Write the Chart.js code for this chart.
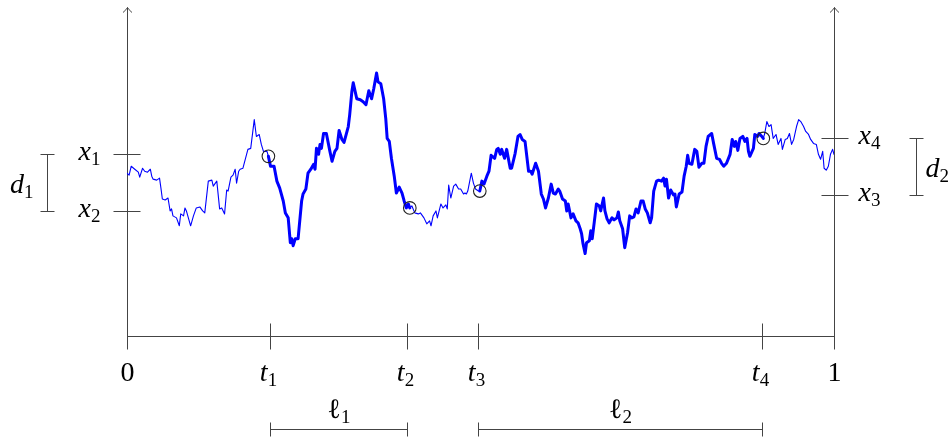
<!DOCTYPE html>
<html><head><meta charset="utf-8">
<script src="https://cdn.jsdelivr.net/npm/chart.js@4/dist/chart.umd.min.js"></script>
<style>html,body{margin:0;padding:0;background:#fff}#wrap{width:951px;height:441px;position:relative}</style>
</head><body><div id="wrap"><canvas id="c"></canvas></div>
<script>
// ---- path (time in [0,1], value in arbitrary units) ----
const times = [
0,0.003,0.006,0.011,0.016,0.018,0.022,0.025,0.029,0.033,0.035,0.037,0.042,0.046,0.048,0.050,0.054,0.058,0.061,0.063,
0.065,0.070,0.074,0.076,0.080,0.082,0.084,0.090,0.094,0.098,0.103,0.107,0.110,0.115,0.120,0.122,0.127,0.131,0.134,0.138,
0.141,0.143,0.147,0.150,0.153,0.155,0.158,0.160,0.164,0.171,0.175,0.180,0.183,0.187,0.190,0.193,0.198,0.200,
0.203,0.208,0.212,0.216,0.221,0.224,0.228,0.231,0.233,0.235,0.238,0.242,0.247,0.249,0.253,0.256,0.260,0.264,0.266,0.268,
0.271,0.273,0.275,0.278,0.282,0.287,0.290,0.294,0.297,0.300,0.304,0.307,0.313,0.315,0.318,0.320,0.325,0.330,0.334,0.338,
0.342,0.346,0.349,0.353,0.355,0.359,0.363,0.366,0.368,0.371,0.374,0.378,0.381,0.385,0.389,0.392,0.395,0.398,0.400,
0.403,0.407,0.412,0.415,0.420,0.424,0.428,0.430,0.433,0.437,0.439,0.444,0.447,0.451,0.453,0.455,0.458,0.462,0.465,0.469,
0.472,0.476,0.478,0.480,0.482,0.487,0.490,0.493,0.497,0.499,
0.502,0.505,0.509,0.512,0.515,0.520,0.523,0.525,0.528,0.530,0.534,0.537,0.542,0.544,0.549,0.553,0.556,0.559,0.563,0.568,
0.571,0.573,0.578,0.582,0.586,0.589,0.592,0.596,0.600,0.603,0.606,0.610,0.612,0.616,0.620,0.622,0.624,0.628,0.631,0.635,
0.638,0.641,0.643,0.645,0.648,0.650,0.654,0.656,0.658,0.662,0.664,0.668,0.670,0.674,0.676,0.679,0.682,0.686,0.689,0.693,
0.695,0.697,0.701,0.704,0.708,0.711,0.714,0.717,0.720,0.723,0.727,0.730,0.733,0.736,0.740,0.742,0.745,0.749,0.752,0.756,
0.759,0.761,0.763,0.766,0.769,0.773,0.775,0.777,0.781,0.785,0.788,0.791,0.793,0.795,0.799,0.803,0.806,0.809,0.813,0.816,
0.819,0.822,0.827,0.830,0.834,0.838,0.841,0.844,0.848,0.853,0.856,0.859,0.861,0.864,0.867,0.871,0.874,0.877,0.879,0.881,
0.886,0.888,0.892,0.894,0.898,0.900,
0.902,0.905,0.908,0.911,0.914,0.918,0.921,0.925,0.927,0.931,0.934,0.937,0.940,0.943,0.947,0.950,0.953,0.957,0.960,0.964,
0.967,0.971,0.975,0.978,0.981,0.984,0.986,0.989,0.992,0.995,0.998,1.000];
const values = [
1.64,1.62,1.71,1.68,1.65,1.60,1.69,1.66,1.65,1.68,1.61,1.58,1.57,1.59,1.49,1.38,1.37,1.39,1.26,1.28,
1.21,1.19,1.11,1.23,1.21,1.29,1.26,1.11,1.21,1.29,1.30,1.26,1.24,1.56,1.57,1.51,1.56,1.28,1.29,1.23,
1.47,1.46,1.60,1.62,1.68,1.54,1.66,1.68,1.69,1.88,1.89,2.18,2.01,2.03,1.93,1.86,1.86,1.81,
1.71,1.71,1.56,1.49,1.36,1.24,1.19,0.94,0.98,0.91,0.98,0.98,1.36,1.43,1.48,1.64,1.68,1.73,1.68,1.89,
1.83,1.93,1.89,2.04,2.04,1.86,1.76,1.86,1.89,2.07,1.98,1.95,2.11,2.23,2.46,2.55,2.39,2.38,2.36,2.33,
2.47,2.39,2.49,2.65,2.56,2.54,2.39,2.19,1.99,1.96,1.79,1.61,1.44,1.50,1.44,1.36,1.29,1.33,1.29,
1.31,1.24,1.23,1.24,1.19,1.13,1.16,1.11,1.21,1.26,1.19,1.33,1.29,1.32,1.28,1.52,1.39,1.51,1.53,1.48,
1.48,1.43,1.44,1.43,1.46,1.64,1.54,1.48,1.46,1.46,
1.56,1.53,1.61,1.66,1.82,1.79,1.88,1.89,1.83,1.88,1.79,1.88,1.69,1.69,1.84,2.01,2.03,1.98,1.96,1.66,
1.66,1.63,1.74,1.66,1.43,1.38,1.29,1.39,1.53,1.44,1.43,1.48,1.46,1.38,1.36,1.26,1.33,1.19,1.23,1.16,
1.14,1.08,1.03,0.93,0.83,0.94,0.96,1.06,0.98,1.21,1.33,1.31,1.26,1.39,1.26,1.18,1.14,1.19,1.17,1.19,
1.25,1.16,1.08,0.89,1.04,1.21,1.19,1.20,1.28,1.24,1.36,1.36,1.28,1.24,1.14,1.19,1.46,1.56,1.57,1.56,
1.59,1.51,1.58,1.39,1.47,1.42,1.43,1.30,1.43,1.45,1.61,1.71,1.82,1.74,1.73,1.88,1.86,1.70,1.74,1.74,
1.91,2.01,2.04,1.93,1.79,1.78,1.74,1.71,1.74,1.83,1.98,1.91,1.96,1.87,1.99,2.01,1.96,1.99,1.86,1.81,
1.89,2.03,2.01,2.04,2.01,1.99,
2.04,2.16,2.11,2.13,1.99,2.03,1.93,1.99,1.88,1.98,1.99,2.04,1.93,1.98,2.11,2.18,2.16,2.11,2.06,2.03,
1.98,1.94,1.93,1.83,1.78,1.86,1.69,1.67,1.71,1.83,1.88,1.83];

// intervals drawn with the thick stroke
const thickIntervals = [[0.200, 0.400], [0.499, 0.900]];
// circled points
const markedTimes  = [0.200, 0.400, 0.499, 0.900];
const markedValues = [1.81, 1.29, 1.46, 1.99];
// time axis ticks
const timeTicks = [0, 0.202, 0.396, 0.496, 0.898, 1];
const timeTickLabels = [['0',''],['t','1'],['t','2'],['t','3'],['t','4'],['1','']];
// level marks on the two vertical axes
const leftLevels = [1.83, 1.26];
const leftLevelLabels = [['x','1'],['x','2']];
const rightLevels = [1.99, 1.42];
const rightLevelLabels = [['x','4'],['x','3']];
// span annotations
const spans = [[0.202, 0.396], [0.496, 0.898]];
const spanLabels = [['ℓ','1'],['ℓ','2']];
const distLabels = [['d','1'],['d','2']];
const yTop = 3.31;

const FAM = '"Liberation Serif", "Times New Roman", Times, serif';
const LINE = '#444';

function sym(ctx, main, sub, x, base, align, italic) {
  const mf = (italic ? 'italic ' : '') + '28px ' + FAM;
  const sf = '19px ' + FAM;
  ctx.font = mf; const mw = ctx.measureText(main).width;
  ctx.font = sf; const sw = sub ? ctx.measureText(sub).width : 0;
  const w = mw + sw;
  let sx = align === 'center' ? x - w / 2 : (align === 'right' ? x - w : x);
  ctx.textAlign = 'left'; ctx.textBaseline = 'alphabetic'; ctx.fillStyle = '#000';
  ctx.font = mf; ctx.fillText(main, sx, base);
  if (sub) { ctx.font = sf; ctx.fillText(sub, sx + mw, base + 5); }
}
function seg(ctx, x1, y1, x2, y2) { ctx.beginPath(); ctx.moveTo(x1, y1); ctx.lineTo(x2, y2); ctx.stroke(); }
const isLetter = s => /[a-zA-Z]/.test(s);

const overlay = {
  id: 'overlay',
  beforeDatasetsDraw(chart) {
    const ctx = chart.ctx, xs = chart.scales.x, ys = chart.scales.y;
    const px = v => Math.round(xs.getPixelForValue(v)) + 0.5;
    const py = v => Math.round(ys.getPixelForValue(v)) + 0.5;
    const x0 = px(0), x1 = px(1), yb = py(0), yt = py(yTop);
    ctx.save();
    ctx.strokeStyle = LINE; ctx.lineWidth = 1;
    [x0, x1].forEach(x => {
      seg(ctx, x, yb, x, yt);
      ctx.beginPath(); ctx.moveTo(x - 4.5, yt + 5); ctx.quadraticCurveTo(x - 1, yt + 2, x, yt); ctx.quadraticCurveTo(x + 1, yt + 2, x + 4.5, yt + 5); ctx.stroke();
    });
    seg(ctx, x0, yb, x1, yb);
    timeTicks.forEach((t, i) => {
      const x = px(t);
      seg(ctx, x, yb - 13, x, yb + 13);
      const [m, s] = timeTickLabels[i];
      sym(ctx, m, s, x - (s ? 2 : 0), yb + 44, 'center', isLetter(m));
    });
    spans.forEach((sp, i) => {
      const a = px(sp[0]), b = px(sp[1]), yy = yb + 93;
      seg(ctx, a, yy, b, yy); seg(ctx, a, yy - 7, a, yy + 7); seg(ctx, b, yy - 7, b, yy + 7);
      const [m, s] = spanLabels[i];
      sym(ctx, m, s, (a + b) / 2, yb + 81, 'center', false);
    });
    leftLevels.forEach((v, i) => {
      const y = py(v); seg(ctx, x0 - 14, y, x0 + 13, y);
      const [m, s] = leftLevelLabels[i]; sym(ctx, m, s, x0 - 27, y + 5, 'right', true);
    });
    rightLevels.forEach((v, i) => {
      const y = py(v); seg(ctx, x1 - 13, y, x1 + 14, y);
      const [m, s] = rightLevelLabels[i]; sym(ctx, m, s, x1 + 24, y + 5, 'left', true);
    });
    const brackets = [[leftLevels, x0 - 81, 'right', x0 - 94], [rightLevels, x1 + 81, 'left', x1 + 91]];
    brackets.forEach((b, i) => {
      const ya = py(b[0][0]), yb2 = py(b[0][1]), bx = Math.round(b[1]) + 0.5;
      seg(ctx, bx, ya, bx, yb2); seg(ctx, bx - 7, ya, bx + 7, ya); seg(ctx, bx - 7, yb2, bx + 7, yb2);
      const [m, s] = distLabels[i];
      sym(ctx, m, s, b[3], (ya + yb2) / 2 + 10, b[2], true);
    });
    ctx.restore();
  }
};

const pathData = times.map((t, i) => ({ x: t, y: values[i] }));
const markData = markedTimes.map((t, i) => ({ x: t, y: markedValues[i] }));
const thick = (a, b) => { const m = (a + b) / 2; return thickIntervals.some(r => m >= r[0] && m <= r[1]); };

new Chart(document.getElementById('c'), {
  type: 'line',
  data: { datasets: [
    { data: pathData, borderColor: '#0000ff', borderWidth: 1.2, pointRadius: 0, tension: 0,
      borderJoinStyle: 'round', borderCapStyle: 'round', order: 2,
      segment: { borderWidth: c => thick(c.p0.parsed.x, c.p1.parsed.x) ? 3 : 1.1 } },
    { type: 'scatter', data: markData, pointRadius: 6.3, pointStyle: 'circle', borderColor: '#222',
      borderWidth: 1.1, backgroundColor: 'rgba(0,0,0,0)', showLine: false, order: 1 }
  ] },
  options: {
    responsive: true, maintainAspectRatio: false, animation: false, events: [],
    layout: { padding: { left: 127, right: 117, top: 5, bottom: 105 } },
    plugins: { legend: { display: false }, tooltip: { enabled: false } },
    scales: { x: { type: 'linear', min: 0, max: 1, display: false },
              y: { min: 0, max: yTop, display: false } }
  },
  plugins: [overlay]
});
</script></body></html>
